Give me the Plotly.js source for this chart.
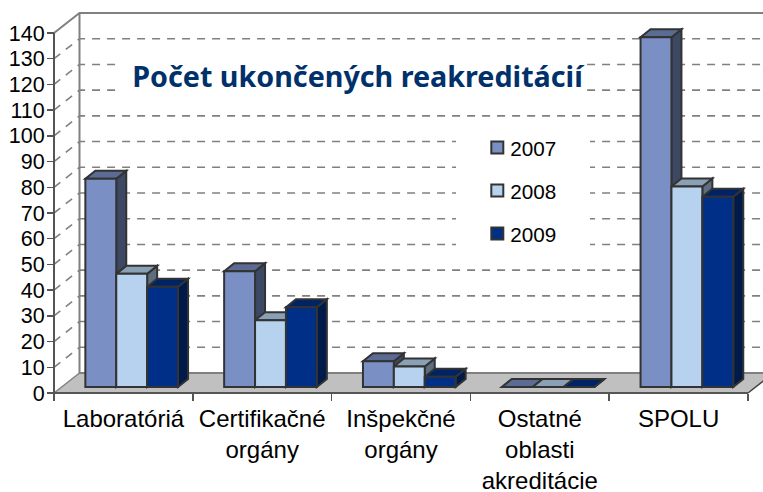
<!DOCTYPE html>
<html><head><meta charset="utf-8">
<script src="https://cdn.plot.ly/plotly-3.0.1.min.js"></script>
<style>html,body{margin:0;padding:0;background:#fff}</style>
</head><body><div id="c" style="width:763px;height:492px"></div>
<script>
const categories = ['Laboratóriá','Certifikačné<br>orgány','Inšpekčné<br>orgány','Ostatné<br>oblasti<br>akreditácie','SPOLU'];
const years = ['2007','2008','2009'];
const v2007 = [81,45,10,0,136];
const v2008 = [44,26,8,0,78];
const v2009 = [39,31,4,0,74];
const yTicks = [0,10,20,30,40,50,60,70,80,90,100,110,120,130,140];
const frontColors = ['#7A8FC3','#B7D2EE','#002F87'];
const topColors = ['#5B6B93','#8AA0B4','#002366'];
const sideColors = ['#3D4864','#5E6E7E','#001A4A'];
const series = [v2007,v2008,v2009];

// scale: pixels per unit on each axis (frame of the pseudo-3D box)
const X0=54, Y0=393, PXX=138.8, PXY=360/140, L=40, R=763, T=5, B=402;
const ux = p => p/PXX, uy = p => p/PXY;
const wallDx=ux(25.5), wallDy=uy(20), barDx=ux(10), barDy=uy(8);
const barBase=uy(6), barW=ux(30.9), groupShift=ux(8.3);
const shapes=[];
const poly=(pts,fill,lc,lw,dash)=>shapes.push({type:'path',layer:'below',xref:'x',yref:'y',
  path:'M'+pts.map(p=>p[0]+','+p[1]).join('L')+(fill?'Z':''),
  fillcolor:fill||'rgba(0,0,0,0)',line:{color:lc||'rgba(0,0,0,0)',width:lw||0,dash:dash||'solid'}});
const xEnd=5, xFar=5+wallDx;
// floor
poly([[0,0],[wallDx,wallDy],[xFar,wallDy],[xEnd,0]],'#C0C0C0');
// gridlines wrapping the side wall and the back wall
yTicks.filter(t=>t>0&&t<140).forEach(t=>poly([[0,t],[wallDx,t+wallDy],[xFar,t+wallDy]],null,'#808080',1.6,'8px,7px'));
// white boxes behind title and legend
const box=(a,b,c,d)=>shapes.push({type:'rect',layer:'below',xref:'x',yref:'y',x0:ux(a-X0),x1:ux(b-X0),y0:uy(Y0-c),y1:uy(Y0-d),fillcolor:'#fff',line:{width:0}});
box(118,586,52,104); box(456,590,125,252);
// walls
poly([[0,140],[wallDx,140+wallDy],[xFar,140+wallDy]],null,'#808080',2);
poly([[wallDx,140+wallDy],[wallDx,wallDy],[xFar,wallDy]],null,'#808080',2);
poly([[0,wallDy*0],[wallDx,wallDy]],null,'#808080',1.5);
// 3D faces of the bars
const barX=(i,s)=>i+0.5+groupShift+(s-1)*barW;
categories.forEach((c,i)=>series.forEach((vals,s)=>{
  const l=barX(i,s)-barW/2, r=l+barW, top=barBase+vals[i];
  poly([[r,barBase],[r+barDx,barBase+barDy],[r+barDx,top+barDy],[r,top]],sideColors[s],'#333333',2);
  poly([[l,top],[l+barDx,top+barDy],[r+barDx,top+barDy],[r,top]],topColors[s],'#333333',2);
}));
// axis lines
poly([[0,0],[0,140]],null,'#555555',2);
poly([[0,0],[xEnd,0]],null,'#555555',2);
poly([[xEnd,0],[xFar,wallDy]],null,'#444444',1.5);

const traces=series.map((vals,s)=>({type:'bar',name:years[s],legendgroup:years[s],
  x:categories.map((c,i)=>barX(i,s)),y:vals,base:barBase,width:barW,
  marker:{color:frontColors[s],line:{color:'#333333',width:2}},hoverinfo:'skip'}));

const W=R-L, H=B-T;
Plotly.newPlot('c',traces,{
  width:763,height:492,barmode:'overlay',showlegend:true,
  paper_bgcolor:'#fff',plot_bgcolor:'#fff',
  margin:{l:L,r:763-R,t:T,b:492-B,pad:0},
  font:{family:'"Liberation Sans",Arial,sans-serif',color:'#000',size:20},
  title:{text:'Počet ukončených reakreditácií',font:{family:'"Noto Sans"',size:28.7,weight:700,color:'#00316B'},
    x:357.5/763,xanchor:'center',y:1-77/492,yanchor:'middle'},
  xaxis:{range:[ux(L-X0),ux(R-X0)],anchor:'free',position:(B-Y0)/H,showgrid:false,zeroline:false,showline:false,
    tickmode:'array',tickvals:categories.map((c,i)=>i+0.5),ticktext:categories,
    ticks:'',tickfont:{size:24,color:'#000'},tickangle:0,ticklabelstandoff:9,
    minor:{dtick:1,tick0:0,ticks:'outside',ticklen:7,tickwidth:1.5,tickcolor:'#555555',showgrid:false}},
  yaxis:{range:[uy(Y0-B),uy(Y0-T)],anchor:'free',position:(X0-L)/W,showgrid:false,zeroline:false,showline:false,
    tickmode:'array',tickvals:yTicks,ticks:'outside',ticklen:7,tickwidth:1.5,tickcolor:'#555555',tickfont:{size:21.5,color:'#000'},ticklabelstandoff:-2},
  legend:{x:461.5/763,y:1-152/492,xanchor:'left',yanchor:'top',bgcolor:'rgba(0,0,0,0)',tracegroupgap:13,
    font:{size:20.7,color:'#000'},itemclick:false},
  shapes:shapes
},{displayModeBar:false,staticPlot:true}).then(()=>{
  document.querySelectorAll('.legendtext').forEach(t=>t.setAttribute('x','33'));
});
</script></body></html>
